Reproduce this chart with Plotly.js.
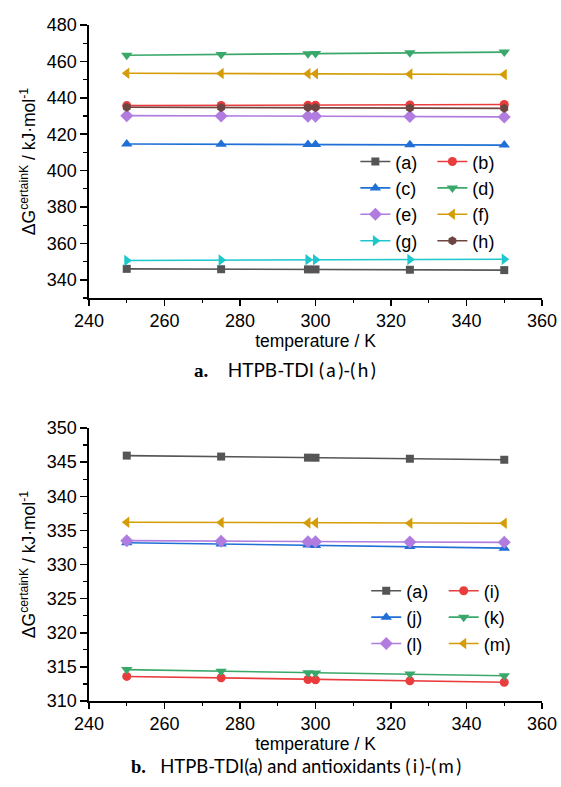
<!DOCTYPE html>
<html>
<head>
<meta charset="utf-8">
<script src="https://cdn.plot.ly/plotly-3.0.1.min.js"></script>
<style>html,body{margin:0;padding:0;background:#fff;}#chart{width:561px;height:787px;}</style>
</head>
<body>
<div id="chart"></div>
<script>
// temperatures (K)
const temperature = [250, 275, 298, 300, 325, 350];

// panel a: HTPB-TDI (a)-(h), ΔG (kJ/mol)
const namesA = ['(a)', '(b)', '(c)', '(d)', '(e)', '(f)', '(g)', '(h)'];
const seriesA_a = [346.0, 345.8, 345.7, 345.7, 345.5, 345.3];
const seriesA_b = [435.7, 435.8, 435.9, 435.9, 436.1, 436.3];
const seriesA_c = [414.6, 414.5, 414.4, 414.4, 414.2, 414.0];
const seriesA_d = [463.4, 463.8, 464.2, 464.3, 464.7, 465.1];
const seriesA_e = [430.2, 430.0, 429.9, 429.9, 429.7, 429.5];
const seriesA_f = [453.5, 453.3, 453.2, 453.2, 453.0, 452.8];
const seriesA_g = [350.6, 350.8, 351.0, 351.0, 351.1, 351.3];
const seriesA_h = [434.8, 434.7, 434.6, 434.6, 434.4, 434.2];

// panel b: HTPB-TDI (a) and antioxidants (i)-(m)
const namesB = ['(a)', '(i)', '(j)', '(k)', '(l)', '(m)'];
const seriesB_a = [345.96, 345.82, 345.66, 345.65, 345.5, 345.35];
const seriesB_i = [313.6, 313.4, 313.15, 313.1, 312.95, 312.75];
const seriesB_j = [333.2, 333.0, 332.85, 332.8, 332.65, 332.4];
const seriesB_k = [314.6, 314.35, 314.15, 314.1, 313.95, 313.7];
const seriesB_l = [333.5, 333.4, 333.35, 333.35, 333.3, 333.25];
const seriesB_m = [336.2, 336.15, 336.1, 336.1, 336.05, 336.05];

const valuesA = [seriesA_a, seriesA_b, seriesA_c, seriesA_d, seriesA_e, seriesA_f, seriesA_g, seriesA_h];
const valuesB = [seriesB_a, seriesB_i, seriesB_j, seriesB_k, seriesB_l, seriesB_m];

const colors = ['#555555', '#ea3c3c', '#1f6fd6', '#3aa86a', '#b07ce0', '#d49c06', '#1cc8cc', '#6e4641'];
const symbols = ['square', 'circle', 'triangle-up', 'triangle-down', 'diamond', 'triangle-left', 'triangle-right', 'hexagon'];
const msize = [8, 9, 10, 10, 10, 10, 10, 9];

const traces = [];
valuesA.forEach((v, i) => {
  traces.push({
    x: temperature, y: v, name: namesA[i], type: 'scatter', mode: 'lines+markers',
    xaxis: 'x', yaxis: 'y',
    line: {color: colors[i], width: 1.6},
    marker: {symbol: symbols[i], size: msize[i], color: colors[i]},
    legend: i % 2 === 0 ? 'legend' : 'legend2'
  });
});
valuesB.forEach((v, i) => {
  traces.push({
    x: temperature, y: v, name: namesB[i], type: 'scatter', mode: 'lines+markers',
    xaxis: 'x2', yaxis: 'y2',
    line: {color: colors[i], width: 1.6},
    marker: {symbol: symbols[i], size: msize[i], color: colors[i]},
    legend: i % 2 === 0 ? 'legend3' : 'legend4'
  });
});

const FONT = 'Arial';
function xax(anchor) {
  return {
    anchor: anchor, domain: [0, 1], range: [240, 360], tick0: 240, dtick: 20,
    ticks: 'outside', ticklen: 6, tickwidth: 1.5, tickcolor: '#000',
    showline: true, linewidth: 1.6, linecolor: '#000', mirror: false,
    showgrid: false, zeroline: false,
    minor: {dtick: 10, ticks: 'outside', ticklen: 3.5, tickwidth: 1.3, tickcolor: '#000', showgrid: false},
    tickfont: {family: FONT, size: 18, color: '#000'},
    title: {text: 'temperature / K', font: {family: FONT, size: 17.5, color: '#000'}, standoff: 4}
  };
}
function yax(anchor, domain, range, dtick, mdtick) {
  return {
    anchor: anchor, domain: domain, range: range, tick0: 0, dtick: dtick,
    ticks: 'outside', ticklen: 7, tickwidth: 1.5, tickcolor: '#000',
    showline: true, linewidth: 1.6, linecolor: '#000', mirror: false,
    showgrid: false, zeroline: false,
    minor: {dtick: mdtick, tick0: 0, ticks: 'outside', ticklen: 4, tickwidth: 1.3, tickcolor: '#000', showgrid: false},
    tickfont: {family: FONT, size: 18, color: '#000'},
    title: {text: 'ΔG<sup>certainK</sup> / kJ·mol<sup>-1</sup>', font: {family: FONT, size: 17.5, color: '#000'}, standoff: 6}
  };
}
const legFont = {family: FONT, size: 18, color: '#000'};
function leg(x, y) {
  return {x: x, y: y, xanchor: 'left', yanchor: 'top', bgcolor: 'rgba(0,0,0,0)', borderwidth: 0,
          font: legFont, tracegroupgap: 0, itemclick: false};
}

const CAP = 'Lato';
const layout = {
  width: 561, height: 787,
  margin: {l: 89, r: 19, t: 25, b: 86},
  paper_bgcolor: '#fff', plot_bgcolor: '#fff',
  showlegend: true,
  xaxis: xax('y'),
  yaxis: yax('x', [0.5962, 1], [330, 480], 20, 10),
  xaxis2: xax('y2'),
  yaxis2: yax('x2', [0, 0.4038], [310, 350], 5, 2.5),
  legend: leg(0.588, 0.825),
  legend2: leg(0.758, 0.825),
  legend3: leg(0.612, 0.19),
  legend4: leg(0.783, 0.19),
  annotations: [
    {xref: 'paper', yref: 'paper', x: 0.432, y: 0.49, xanchor: 'center', yanchor: 'middle', showarrow: false,
     text: '<span style="font-family:Liberation Serif"><b>a.</b></span>\u00a0\u00a0\u00a0\u00a0HTPB-TDI\u00a0(\u2009a\u2009)-(\u2009h\u2009)',
     font: {family: CAP, size: 19, color: '#000'}},
    {xref: 'paper', yref: 'paper', x: 0.458, y: -0.096, xanchor: 'center', yanchor: 'middle', showarrow: false,
     text: '<span style="font-family:Liberation Serif"><b>b.</b></span>\u00a0\u00a0\u00a0HTPB-TDI(a) and antioxidants (\u2009i\u2009)-(\u2009m\u2009)',
     font: {family: CAP, size: 18.5, color: '#000'}}
  ]
};

Plotly.newPlot('chart', traces, layout, {displayModeBar: false, staticPlot: true});
</script>
</body>
</html>
